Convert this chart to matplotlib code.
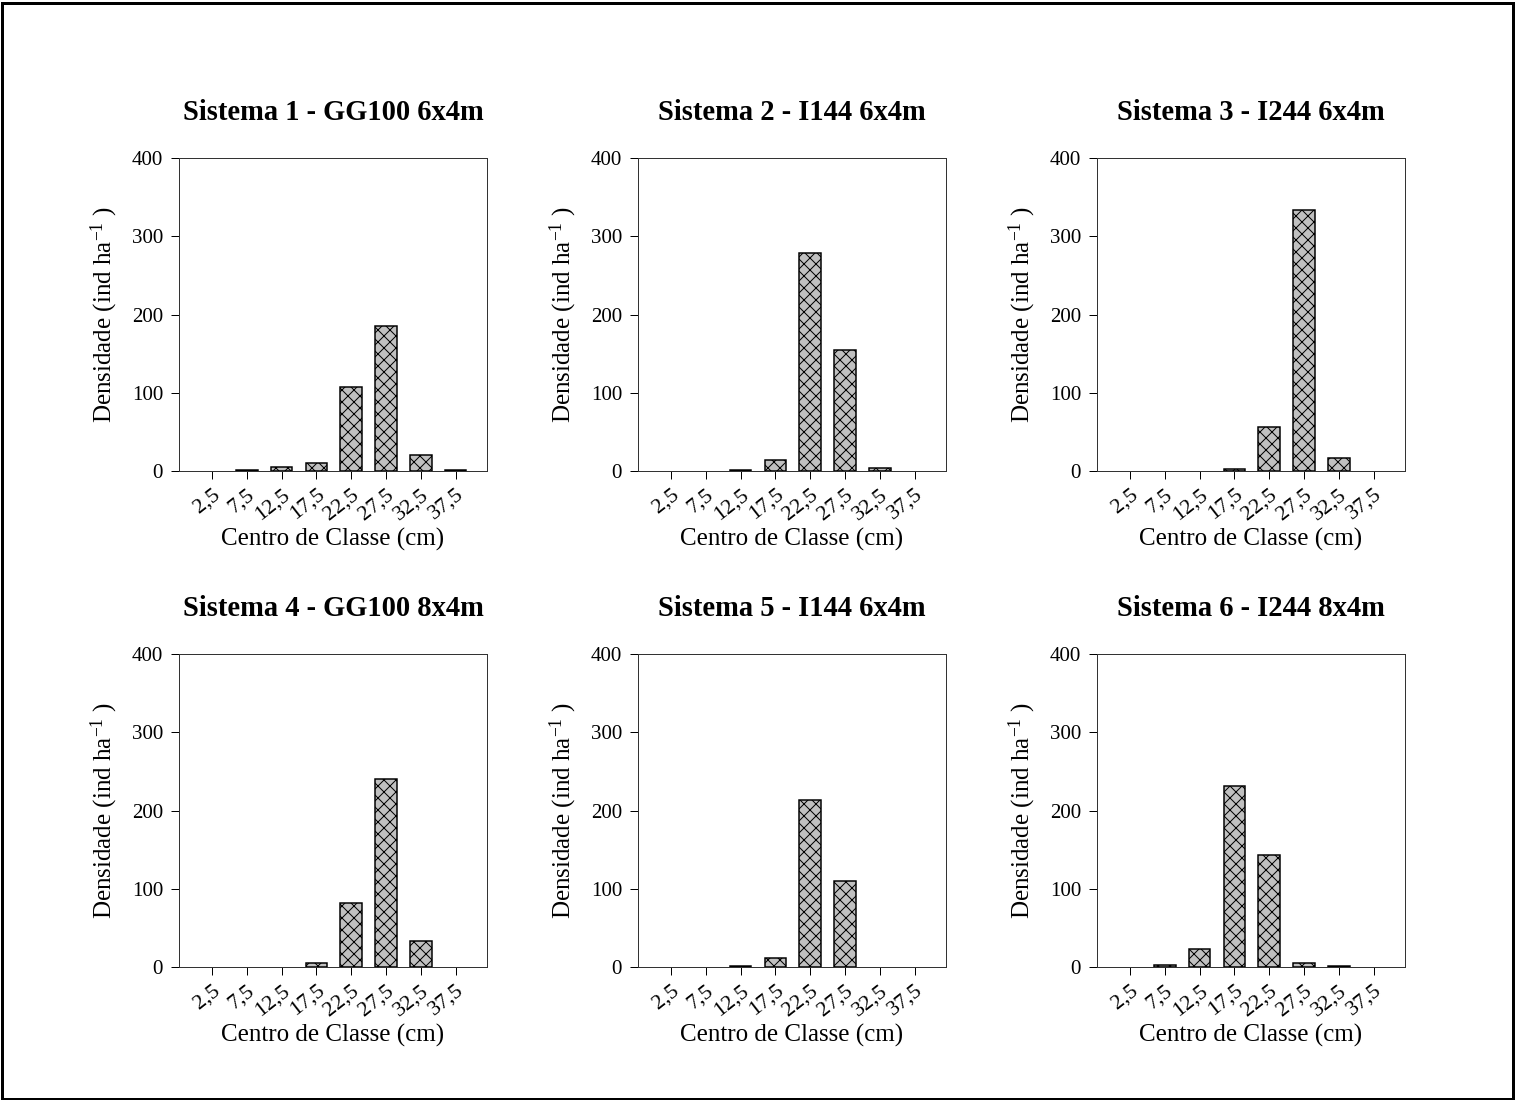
import matplotlib.pyplot as plt
from matplotlib.patches import Rectangle

plt.rcParams['font.family'] = ['Liberation Serif', 'DejaVu Serif']
plt.rcParams['mathtext.fontset'] = 'custom'
plt.rcParams['mathtext.rm'] = 'Liberation Serif'
plt.rcParams['mathtext.it'] = 'Liberation Serif:italic'
plt.rcParams['mathtext.default'] = 'regular'
plt.rcParams['hatch.linewidth'] = 1.0

classes = ['2,5', '7,5', '12,5', '17,5', '22,5', '27,5', '32,5', '37,5']

titles = ['Sistema 1 - GG100 6x4m', 'Sistema 2 - I144 6x4m', 'Sistema 3 - I244 6x4m',
          'Sistema 4 - GG100 8x4m', 'Sistema 5 - I144 6x4m', 'Sistema 6 - I244 8x4m']

s1 = [0, 1, 5, 10, 107, 185, 20, 1]
s2 = [0, 0, 1, 14, 279, 155, 4, 0]
s3 = [0, 0, 0, 3, 56, 334, 17, 0]
s4 = [0, 0, 0, 5, 82, 240, 33, 0]
s5 = [0, 0, 1, 11, 213, 110, 0, 0]
s6 = [0, 3, 23, 231, 143, 5, 1, 0]
series = [s1, s2, s3, s4, s5, s6]

W, H = 1518, 1100
fig = plt.figure(figsize=(W / 72, H / 72), dpi=72)

lefts = [179, 638, 1097]
tops = [158, 654]
aw, ah = 308, 313

for i, vals in enumerate(series):
    r, c = divmod(i, 3)
    ax = fig.add_axes([lefts[c] / W, 1 - (tops[r] + ah) / H, aw / W, ah / H])
    x = list(range(len(classes)))
    bars = ax.bar(x, vals, width=0.62, color='#c0c0c0', edgecolor='black',
                  linewidth=1.5, hatch='xx')
    # empty classes show no bar at all
    for b, v in zip(bars, vals):
        if v == 0:
            b.set_visible(False)
    ax.set_xlim(-0.95, 7.9)
    ax.set_ylim(0, 400)
    ax.set_yticks([0, 100, 200, 300, 400])
    ax.set_xticks(x)
    ax.set_xticklabels(classes, rotation=38, ha='right', rotation_mode='anchor')
    ax.tick_params(direction='out', length=8, width=1, labelsize=22)
    ax.tick_params(axis='y', pad=8, labelsize=21)
    ax.tick_params(axis='x', pad=6)
    for sp in ax.spines.values():
        sp.set_linewidth(1)
        sp.set_color('#333333')
    ax.set_title(titles[i], fontsize=28.5, fontweight='bold', pad=38)
    ax.set_xlabel('Centro de Classe (cm)', fontsize=25, labelpad=4)
    ax.set_ylabel('Densidade (ind ha$^{-1}$ )', fontsize=25, labelpad=12)

fig.patches.append(Rectangle((0.001, 0.001), 0.996, 0.996, transform=fig.transFigure,
                             fill=False, edgecolor='black', linewidth=3))

fig.savefig('out.png', dpi=72)
